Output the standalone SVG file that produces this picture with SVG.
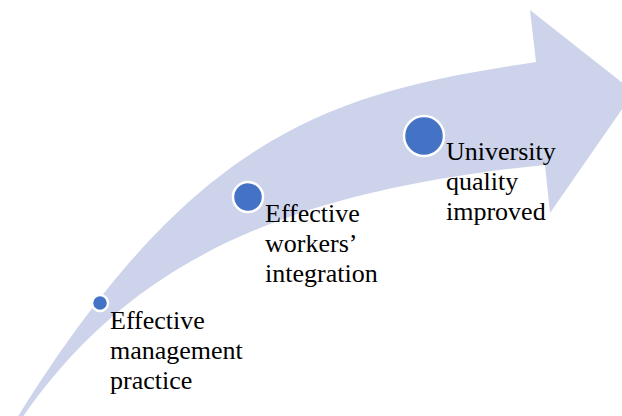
<svg xmlns="http://www.w3.org/2000/svg" width="622" height="416" viewBox="0 0 622 416">
  <style>
    .arrow { fill: #CDD3EA; stroke: none; }
    .dot { fill: #4472C4; stroke: #FFFFFF; stroke-width: 2.5; }
    .lbl { font-family: "Liberation Serif", "Times New Roman", serif; font-size: 26px; fill: #000000; }
  </style>
  <rect width="622" height="416" fill="#FFFFFF"/>
  <g id="connectors">
    <path class="arrow" d="M17,418 C197,128 336,92 536,62 L530,10 L634,92 L550,213 L545,165 C285,191 130,262 22,418 Z"/>
  </g>
  <g id="node-management">
    <circle class="dot" cx="100" cy="303" r="8"/>
    <text class="lbl" x="110" y="329">Effective</text>
    <text class="lbl" x="110" y="359">management</text>
    <text class="lbl" x="110" y="389">practice</text>
  </g>
  <g id="node-workers">
    <circle class="dot" cx="248" cy="197" r="15"/>
    <text class="lbl" x="265" y="222">Effective</text>
    <text class="lbl" x="265" y="252">workers’</text>
    <text class="lbl" x="265" y="282">integration</text>
  </g>
  <g id="node-university">
    <circle class="dot" cx="424" cy="136" r="20"/>
    <text class="lbl" x="446" y="160">University</text>
    <text class="lbl" x="446" y="190">quality</text>
    <text class="lbl" x="446" y="220">improved</text>
  </g>
</svg>
